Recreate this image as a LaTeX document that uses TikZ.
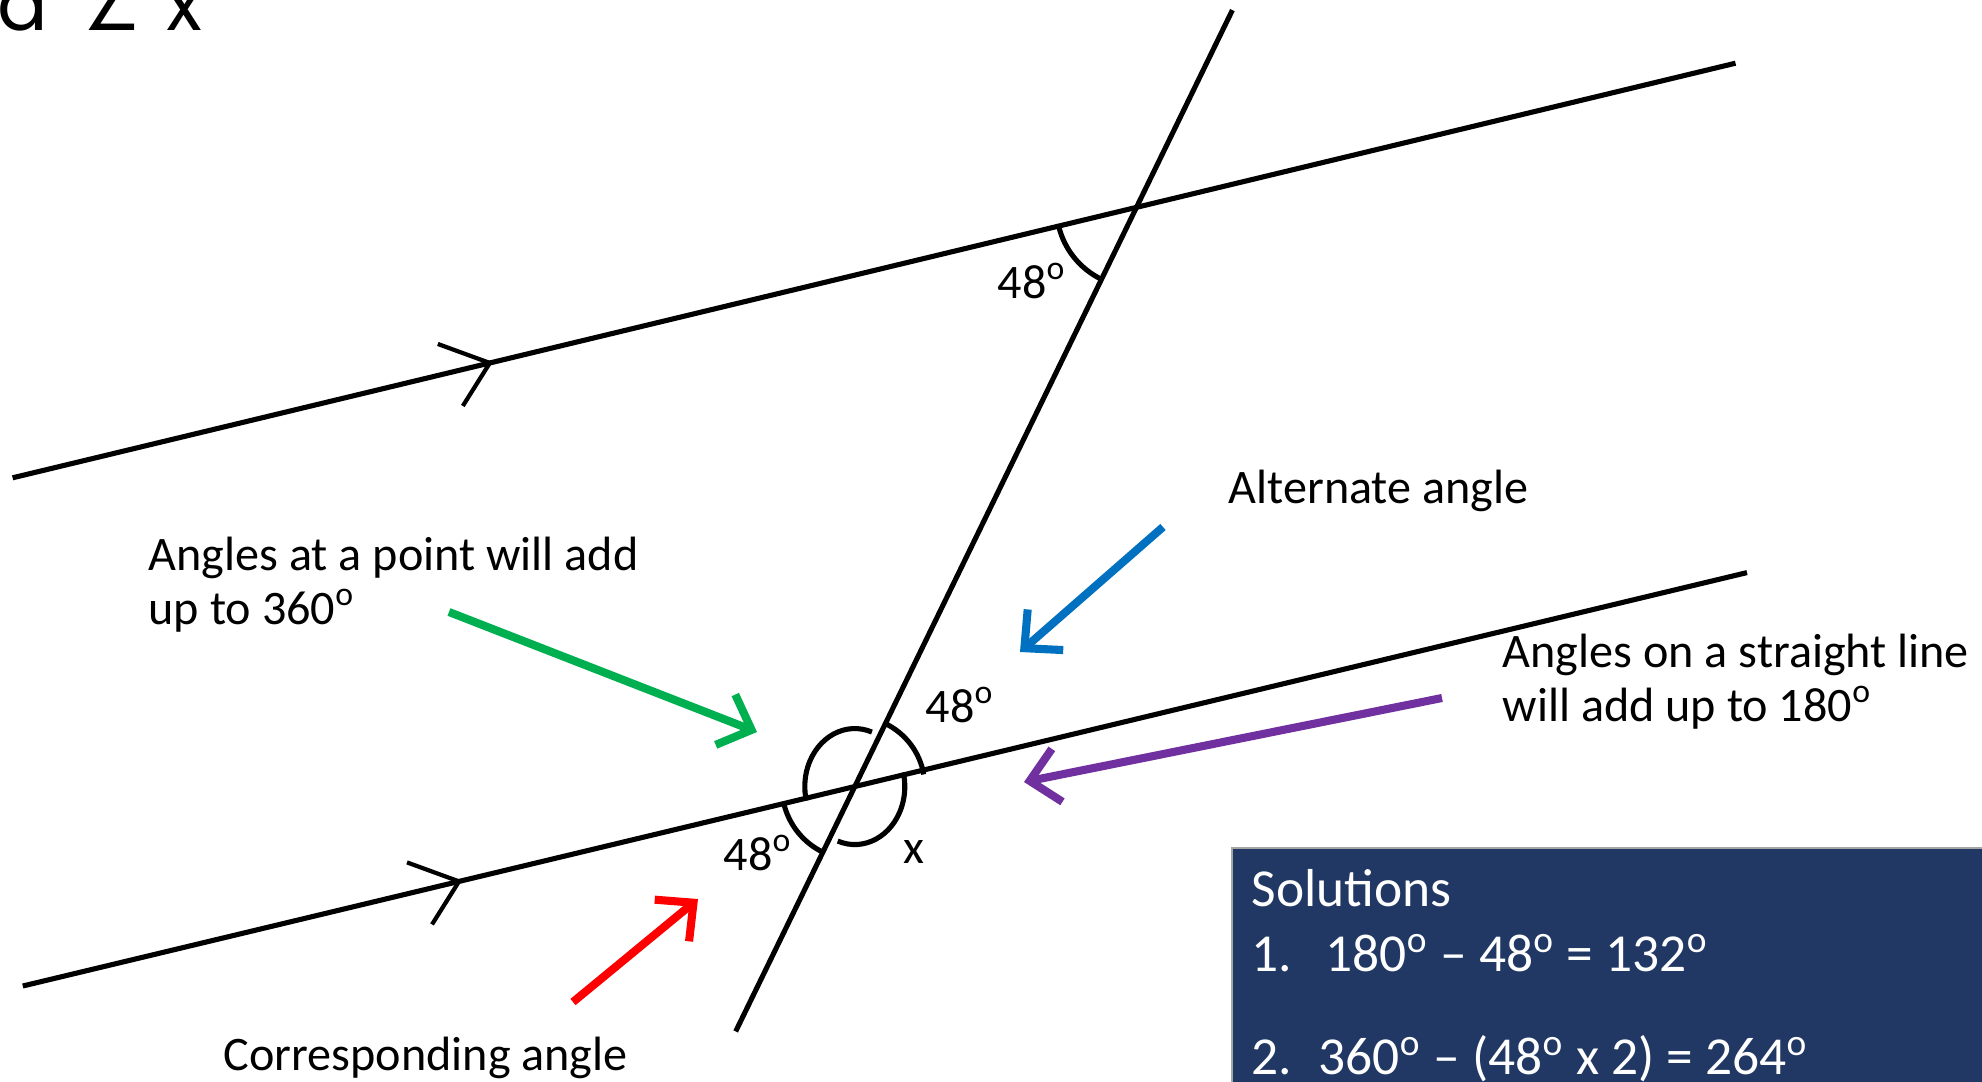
\documentclass[tikz,border=0pt]{standalone}
\usepackage{fontspec}
\setmainfont{Carlito}
\newfontfamily\titlefont{Poppins}
\newfontfamily\symfont{DejaVu Sans}
\usetikzlibrary{arrows.meta,calc}
\definecolor{solblue}{RGB}{33,56,100}
\definecolor{hgreen}{RGB}{0,176,80}
\definecolor{hblue}{RGB}{0,112,192}
\definecolor{hpurple}{RGB}{112,48,160}
\definecolor{hred}{RGB}{255,0,0}
\newcommand{\dg}{\textsuperscript{o}}

\begin{document}
\begin{tikzpicture}[
    geo/.style={line width=1.45pt},
    hint/.style={line width=2.3pt,-{Straight Barb[length=2.8mm,width=5.4mm]}},
    lbl/.style={inner sep=0pt,anchor=base west,font=\fontsize{13.7}{15.3}\selectfont},
    note/.style={lbl,align=left},
    soltext/.style={inner sep=0pt,anchor=base west,text=white,font=\fontsize{15.2}{17}\selectfont}]
    \useasboundingbox (0,0) rectangle (19.82,-10.82);
    % title, cut off at the top
    \node[inner sep=0pt,anchor=base west,font=\titlefont\fontsize{21.3}{24}\selectfont] (title) at (-0.05,-0.30)
        {\makebox[0.54cm]{d}\makebox[1.26cm]{\symfont\fontsize{18.5}{20}\selectfont ∠}\makebox[0.17cm]{x}};
    % two parallel lines and the transversal
    \coordinate (U1) at (0.126,-4.778);
    \coordinate (U2) at (17.355,-0.632);
    \coordinate (L1) at (0.228,-9.86);
    \coordinate (L2) at (17.47,-5.726);
    \coordinate (T1) at (7.357,-10.314);
    \coordinate (T2) at (12.324,-0.101);
    \draw[geo] (U1) -- (U2);
    \draw[geo] (L1) -- (L2);
    \draw[geo] (T1) -- (T2);
    \coordinate (P) at (intersection of U1--U2 and T1--T2);
    \coordinate (Q) at (intersection of L1--L2 and T1--T2);
    % parallel marks
    \coordinate (M1) at ($(U1)!0.277!(U2)$);
    \coordinate (M2) at ($(L1)!0.253!(L2)$);
    \foreach \m in {M1,M2}
        \draw[line width=1.2pt] (\m) ++(-0.52,0.19) -- (\m) -- ++(-0.27,-0.43);
    % angle arcs
    \draw[geo] ([shift={(193.5:0.8)}]P) arc[start angle=193.5,end angle=244,radius=0.8];
    \draw[geo] ([shift={(10:0.7)}]Q) arc[start angle=10,end angle=64,radius=0.7];
    \draw[geo] ([shift={(193:0.73)}]Q) arc[start angle=193,end angle=244,radius=0.73];
    \draw[geo] ([shift={(70:0.5 and 0.58)}]Q) arc[start angle=70,end angle=194,x radius=0.5,y radius=0.58];
    \draw[geo] ([shift={(250:0.5 and 0.58)}]Q) arc[start angle=250,end angle=374,x radius=0.5,y radius=0.58];
    % angle labels
    \node[lbl] (aP) at (9.97,-2.98) {48\dg};
    \node[lbl] (aQ1) at (9.25,-7.22) {48\dg};
    \node[lbl] (aQ2) at (7.23,-8.70) {48\dg};
    \node[lbl] (ax) at (9.03,-8.63) {x};
    % reasons
    \node[lbl] (alt) at (12.28,-5.03) {Alternate angle};
    \node[note] (point) at (1.48,-6.24) {Angles at a point will add\\up to 360\dg};
    \node[note] (line) at (15.02,-7.21) {Angles on a straight line\\will add up to 180\dg};
    \node[lbl] (corr) at (2.23,-10.70) {Corresponding angle};
    \coordinate (g0) at (4.49,-6.12);  \coordinate (g1) at (7.57,-7.32);
    \coordinate (b0) at (11.63,-5.27); \coordinate (b1) at (10.20,-6.52);
    \coordinate (p0) at (14.42,-6.98); \coordinate (p1) at (10.24,-7.82);
    \coordinate (r0) at (5.73,-10.02); \coordinate (r1) at (6.98,-8.99);
    \draw[hint,hgreen] (g0) -- (g1);
    \draw[hint,hblue] (b0) -- (b1);
    \draw[hint,hpurple] (p0) -- (p1);
    \draw[hint,hred] (r0) -- (r1);
    % solutions box
    \fill[solblue,draw=gray!70,line width=0.8pt] (12.32,-8.48) rectangle (20.2,-11.2);
    \node[soltext] (sol) at (12.51,-9.06) {Solutions};
    \node[soltext] (sol1) at (12.51,-9.71) {\makebox[0.74cm][l]{1.}180\dg{} – 48\dg{} = 132\dg};
    \node[soltext] (sol2) at (12.51,-10.74) {\makebox[0.67cm][l]{2.}360\dg{} – (48\dg{} x 2) = 264\dg};
\end{tikzpicture}
\end{document}
